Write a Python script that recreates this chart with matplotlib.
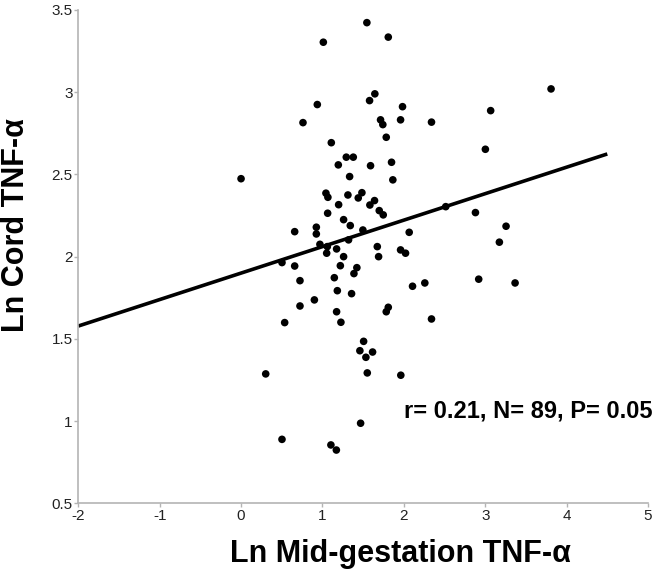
import matplotlib
matplotlib.use("Agg")
import matplotlib.pyplot as plt
import numpy as np
from matplotlib import font_manager

mid_tnf = [1.546, 1.809, 1.011, 1.644, 1.579, 0.937, 1.984, 0.761, 1.714, 1.742,
           1.960, 2.340, 1.784, 1.109, 1.293, 1.379, 1.195, 1.591, 1.849, 1.334,
           1.865, 0.000, 1.043, 1.067, 1.313, 1.485, 1.440, 1.199, 1.640, 1.583,
           1.698, 1.747, 1.064, 1.260, 1.342, 1.497, 0.659, 0.925, 0.925, 2.066,
           2.515, 0.969, 1.060, 1.174, 1.321, 1.674, 1.960, 2.021, 1.052, 1.260,
           1.690, 2.880, 3.174, 0.503, 0.659, 1.220, 1.423, 1.387, 0.724, 1.146,
           1.183, 1.358, 2.107, 2.258, 2.920, 0.901, 0.724, 1.174, 1.227, 0.536,
           1.809, 1.784, 2.340, 1.506, 1.460, 1.616, 1.534, 1.551, 1.963, 0.303,
           1.469, 0.503, 1.104, 1.171, 3.809, 3.067, 3.002, 3.256, 3.367]
cord_tnf = [3.423, 3.335, 3.304, 2.990, 2.949, 2.925, 2.912, 2.815, 2.832, 2.803,
            2.832, 2.818, 2.726, 2.693, 2.605, 2.605, 2.558, 2.553, 2.574, 2.487,
            2.467, 2.474, 2.386, 2.361, 2.375, 2.389, 2.357, 2.316, 2.341, 2.314,
            2.280, 2.254, 2.264, 2.225, 2.189, 2.162, 2.152, 2.179, 2.138, 2.148,
            2.304, 2.075, 2.061, 2.047, 2.102, 2.061, 2.041, 2.021, 2.021, 2.000,
            2.000, 2.268, 2.088, 1.964, 1.943, 1.945, 1.933, 1.897, 1.854, 1.872,
            1.793, 1.775, 1.820, 1.840, 1.863, 1.737, 1.700, 1.665, 1.601, 1.599,
            1.692, 1.665, 1.621, 1.485, 1.428, 1.420, 1.388, 1.293, 1.279, 1.287,
            0.987, 0.889, 0.855, 0.824, 3.020, 2.888, 2.653, 2.185, 1.840]

fit_x = [-2.0, 4.5]
fit_intercept = 1.900
fit_slope = 0.161

x_ticks = [-2, -1, 0, 1, 2, 3, 4, 5]
y_ticks = [0.5, 1, 1.5, 2, 2.5, 3, 3.5]
y_tick_labels = ["0.5", "1", "1.5", "2", "2.5", "3", "3.5"]
x_label = "Ln Mid-gestation TNF-α"
y_label = "Ln Cord TNF-α"
stats_text = "r= 0.21, N= 89, P= 0.05"

names = {f.name for f in font_manager.fontManager.ttflist}
narrow = "Liberation Sans Narrow" if "Liberation Sans Narrow" in names else "Liberation Sans"
tick_fam = [narrow, "DejaVu Sans"]
lab_fam = ["Liberation Sans", "DejaVu Sans"]

fig = plt.figure(figsize=(6.6, 5.77), dpi=100)
ax = fig.add_axes([0.1186, 0.1277, 0.8632, 0.855])

ax.scatter(mid_tnf, cord_tnf, s=30, color="black", edgecolors="none", zorder=3)
fx = np.array(fit_x)
ax.plot(fx, fit_intercept + fit_slope * fx, color="black", lw=2.6, zorder=2,
        solid_capstyle="butt")

ax.set_xlim(-2, 5)
ax.set_ylim(0.5, 3.5)
ax.set_xticks(x_ticks)
ax.set_xticklabels([str(t) for t in x_ticks])
ax.set_yticks(y_ticks)
ax.set_yticklabels(y_tick_labels)

for s in ["top", "right"]:
    ax.spines[s].set_visible(False)
for s in ["left", "bottom"]:
    ax.spines[s].set_color("#b4b4b4")
    ax.spines[s].set_linewidth(1.2)
ax.tick_params(axis="both", direction="out", length=3, width=1, color="#b4b4b4",
               labelsize=11, pad=1, labelcolor="#222222")
for lab in ax.get_xticklabels() + ax.get_yticklabels():
    lab.set_family(tick_fam)

fig.text(400 / 660, 1 - 562 / 577, x_label, ha="center", va="baseline",
         fontsize=22, fontweight="bold", family=lab_fam)
fig.text(16 / 660, 1 - 225 / 577, y_label, ha="center", va="center", rotation=90,
         fontsize=22, fontweight="bold", family=lab_fam)
fig.text(404 / 660, 1 - 410.7 / 577, stats_text, ha="left", va="center",
         fontsize=17, fontweight="bold", family=lab_fam)

fig.savefig("out.png", dpi=100)
